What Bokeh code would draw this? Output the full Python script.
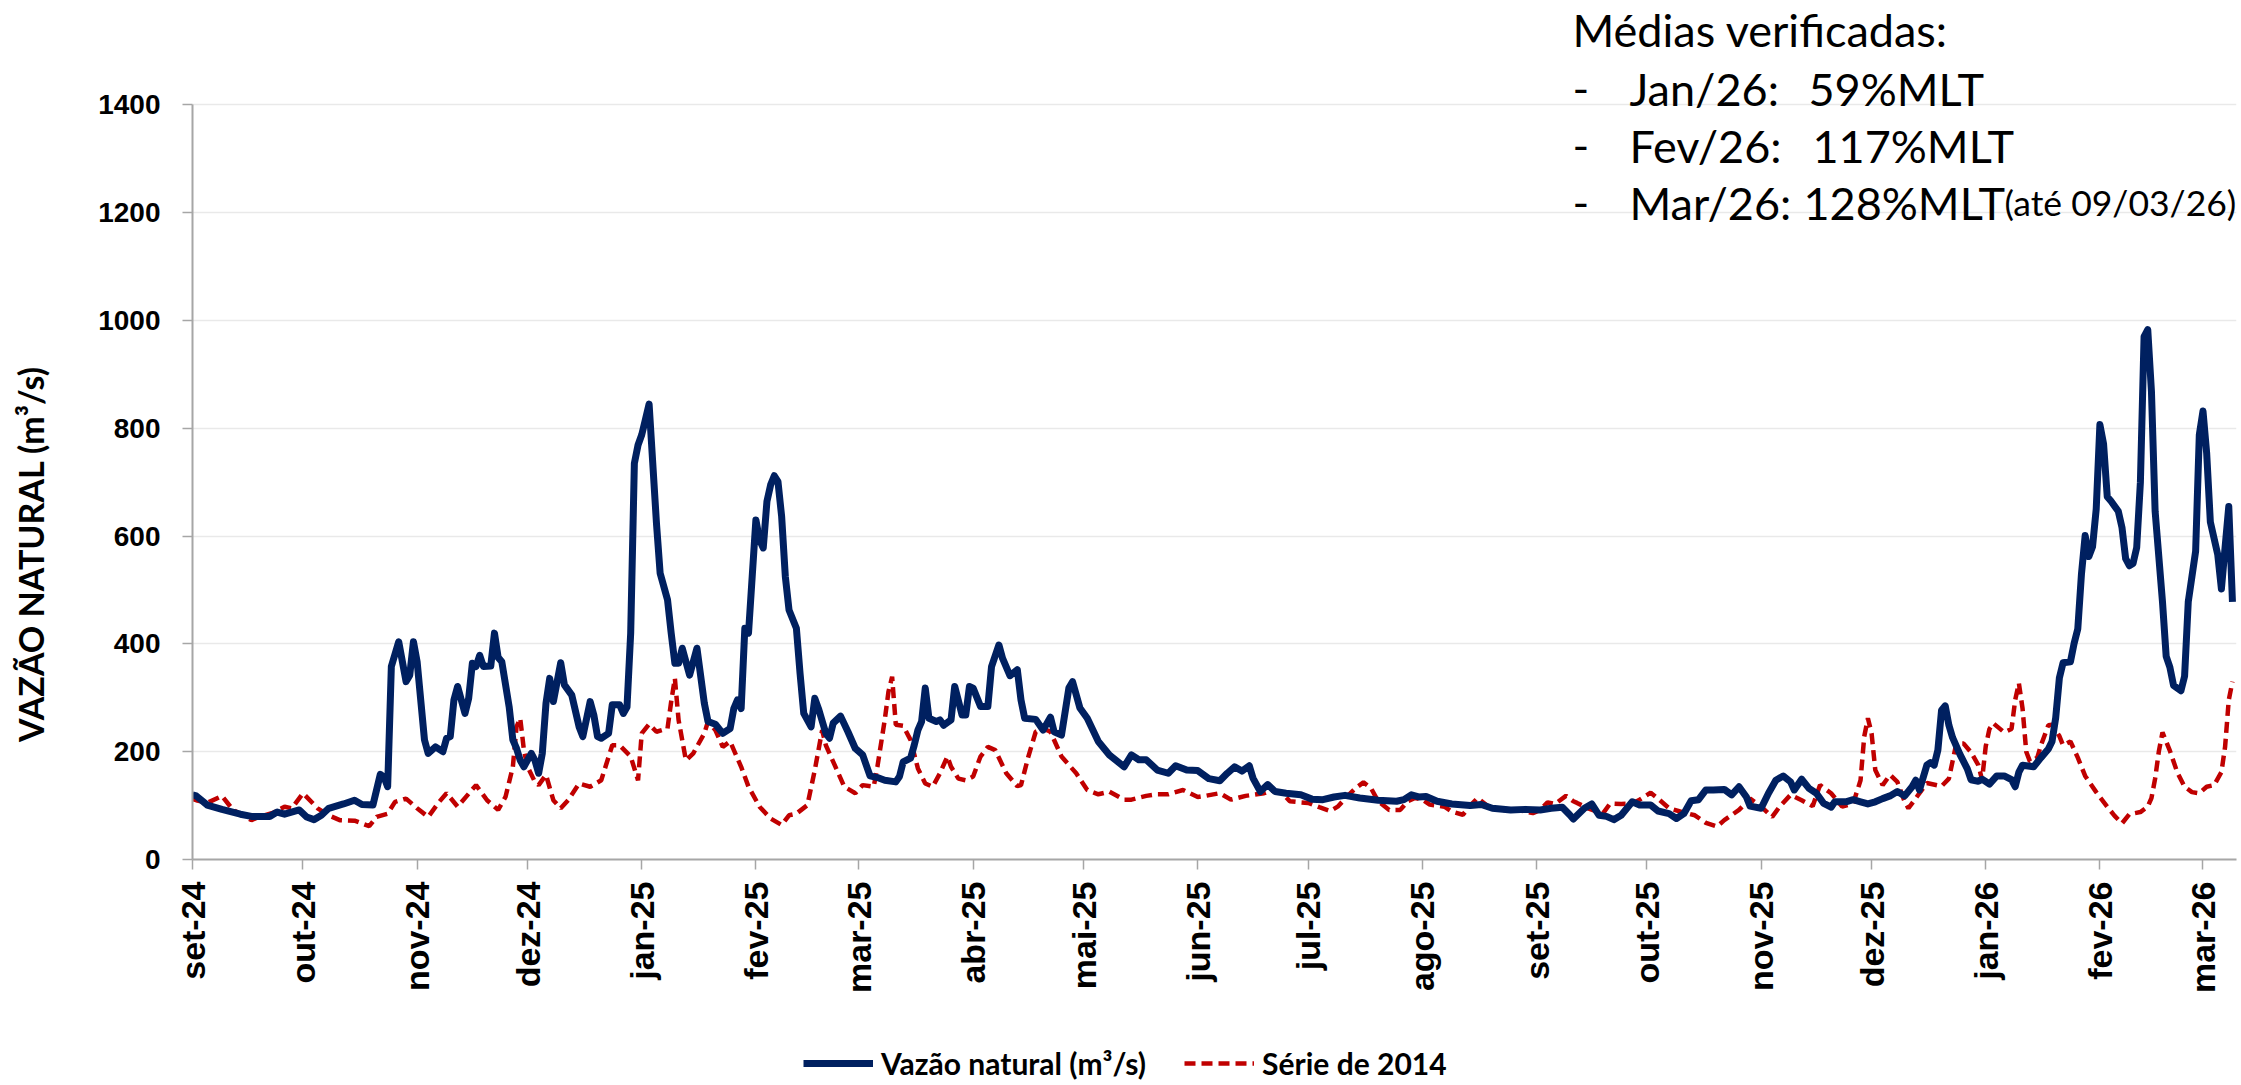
import pandas as pd
from math import pi
from bokeh.plotting import figure
from bokeh.layouts import column
from bokeh.models import FixedTicker, Label, Legend, LegendItem, Range1d
from bokeh.embed import file_html
from bokeh.resources import INLINE

inicio = "2024-09-01"

# Vazão natural (m³/s) - dias contados a partir de 01/09/2024
vazao_dias = [0, 1, 4, 8, 13, 16, 21, 23, 25, 29, 31, 33, 35, 37, 41, 44, 46, 49, 51, 52, 53, 54, 56, 58, 59, 60,
              61, 63, 64, 66, 68, 69, 70, 71, 72, 74, 75, 76, 77, 78, 79, 81, 82, 83, 84, 86, 87, 88, 89, 90, 92,
              93, 94, 95, 96, 97, 98, 100, 101, 103, 105, 106, 108, 109, 110, 111, 113, 114, 116, 117, 118, 119,
              120, 121, 122, 123, 124, 126, 127, 129, 130, 131, 132, 133, 135, 137, 139, 140, 142, 144, 146, 147,
              148, 149, 150, 151, 152, 153, 154, 155, 156, 157, 158, 159, 160, 161, 162, 164, 165, 166, 168, 169,
              170, 172, 173, 174, 176, 178, 180, 182, 184, 186, 188, 191, 192, 193, 195, 196, 197, 198, 199, 200,
              202, 203, 204, 206, 207, 209, 210, 211, 212, 214, 216, 217, 219, 220, 222, 224, 225, 226, 229, 231,
              233, 234, 236, 238, 239, 241, 243, 246, 249, 253, 255, 257, 259, 262, 265, 267, 270, 273, 276, 279,
              281, 283, 285, 287, 288, 290, 292, 294, 297, 301, 304, 307, 310, 313, 317, 322, 327, 329, 331, 333,
              335, 338, 342, 347, 350, 353, 358, 362, 366, 369, 372, 374, 375, 378, 380, 382, 384, 386, 388, 391,
              393, 396, 398, 401, 403, 405, 407, 409, 411, 413, 416, 418, 420, 422, 423, 426, 428, 430, 432, 434,
              435, 437, 439, 441, 443, 445, 446, 449, 451, 453, 455, 457, 459, 461, 463, 465, 467, 468, 469, 471,
              472, 473, 474, 475, 476, 477, 478, 480, 482, 483, 485, 486, 488, 490, 492, 494, 495, 496, 497, 500,
              502, 504, 505, 506, 507, 508, 510, 511, 512, 513, 514, 515, 516, 517, 518, 519, 520, 521, 523, 524,
              525, 526, 527, 528, 529, 530, 531, 532, 533, 535, 536, 537, 538, 540, 541, 542, 543, 544, 545, 546,
              547, 548, 550, 551, 552, 553, 554]
vazao = [120, 118, 101, 93, 84, 80, 80, 88, 84, 92, 79, 74, 82, 95, 103, 110, 102, 101, 158, 153, 135, 358, 404, 330,
         342, 404, 367, 222, 197, 209, 200, 225, 228, 296, 321, 271, 299, 364, 358, 379, 358, 359, 420, 375, 367,
         283, 222, 206, 184, 172, 197, 184, 160, 197, 290, 336, 293, 365, 324, 305, 246, 228, 293, 268, 228, 225,
         234, 287, 287, 271, 283, 420, 735, 769, 788, 816, 845, 624, 531, 482, 420, 364, 364, 392, 342, 392, 290,
         256, 251, 234, 243, 280, 296, 280, 429, 420, 525, 630, 593, 578, 664, 695, 712, 701, 636, 525, 463, 429,
         345, 271, 246, 299, 280, 234, 225, 253, 266, 237, 206, 194, 155, 152, 147, 144, 154, 181, 188, 212, 240,
         256, 318, 262, 256, 259, 249, 259, 321, 268, 268, 321, 318, 284, 284, 358, 398, 373, 341, 352, 296, 262,
         260, 240, 264, 237, 231, 318, 330, 281, 262, 219, 194, 172, 194, 185, 185, 166, 160, 174, 166, 165, 150,
         146, 160, 172, 164, 174, 151, 126, 139, 126, 123, 120, 112, 111, 116, 119, 114, 110, 108, 111, 120, 116,
         117, 108, 103, 100, 102, 95, 92, 93, 92, 95, 97, 83, 75, 95, 103, 82, 80, 74, 82, 107, 101, 101, 90, 85,
         76, 85, 109, 111, 129, 129, 130, 120, 135, 116, 99, 95, 123, 147, 155, 144, 129, 149, 132, 123, 104, 97,
         107, 107, 111, 107, 103, 107, 113, 118, 126, 118, 135, 147, 129, 175, 180, 175, 203, 277, 285, 249, 226,
         195, 168, 148, 145, 149, 140, 155, 155, 148, 135, 162, 175, 172, 189, 205, 219, 263, 337, 365, 367, 401,
         428, 530, 601, 562, 580, 650, 807, 771, 673, 665, 646, 616, 558, 545, 549, 579, 700, 970, 983, 869, 646,
         478, 377, 357, 323, 313, 340, 478, 525, 572, 788, 832, 754, 626, 566, 502, 579, 655, 478]

# Série de 2014 (m³/s)
serie_dias = [0, 1, 4, 8, 11, 16, 18, 22, 25, 27, 30, 34, 37, 40, 44, 48, 50, 53, 55, 58, 61, 64, 67, 69, 72, 77,
              80, 83, 85, 87, 88, 89, 90, 91, 93, 94, 96, 98, 100, 102, 105, 108, 111, 114, 116, 119, 121, 122, 124,
              126, 129, 130, 131, 132, 134, 136, 139, 140, 142, 144, 146, 149, 151, 154, 157, 160, 162, 164, 167,
              169, 171, 172, 175, 177, 180, 182, 185, 186, 188, 189, 190, 191, 193, 195, 197, 199, 201, 203, 205,
              206, 208, 210, 212, 214, 216, 218, 221, 224, 225, 227, 229, 231, 233, 236, 240, 243, 246, 249, 253,
              255, 259, 262, 265, 269, 273, 275, 279, 282, 286, 291, 293, 296, 298, 301, 303, 306, 309, 311, 314,
              316, 318, 320, 322, 325, 328, 330, 332, 334, 336, 340, 342, 345, 347, 349, 352, 356, 359, 364, 366,
              368, 370, 373, 375, 376, 379, 383, 385, 388, 391, 393, 396, 398, 401, 404, 408, 411, 414, 416, 420,
              423, 426, 429, 431, 434, 437, 440, 442, 445, 448, 451, 453, 454, 455, 456, 457, 459, 461, 463, 465,
              466, 469, 471, 475, 477, 479, 481, 483, 485, 486, 487, 488, 489, 492, 494, 495, 496, 497, 498, 499,
              501, 502, 504, 505, 507, 508, 510, 512, 514, 517, 520, 522, 524, 526, 529, 531, 532, 533, 534, 535,
              537, 539, 541, 543, 545, 547, 549, 551, 552, 553, 554]
serie_2014 = [112, 110, 105, 118, 92, 73, 79, 87, 98, 95, 123, 95, 82, 73, 72, 62, 79, 85, 107, 113, 95, 79, 107,
              123, 98, 138, 110, 92, 116, 172, 246, 262, 203, 172, 144, 138, 157, 110, 95, 110, 141, 135, 147, 212,
              212, 191, 147, 234, 251, 237, 243, 293, 336, 259, 184, 197, 234, 256, 240, 209, 219, 172, 135, 98, 76,
              64, 82, 85, 101, 166, 240, 212, 166, 135, 123, 138, 135, 172, 259, 311, 339, 250, 248, 222, 169, 141,
              135, 160, 191, 172, 150, 147, 154, 191, 209, 203, 160, 136, 138, 191, 237, 243, 237, 191, 160, 129,
              121, 126, 111, 111, 118, 121, 121, 129, 116, 118, 123, 111, 118, 123, 128, 123, 108, 106, 105, 97, 90,
              98, 120, 133, 143, 133, 108, 92, 92, 108, 114, 111, 102, 98, 89, 83, 100, 114, 98, 92, 93, 86, 92, 106,
              103, 118, 108, 105, 95, 85, 104, 103, 104, 111, 124, 113, 95, 89, 82, 68, 61, 73, 92, 113, 98, 79, 98,
              120, 110, 99, 138, 123, 98, 104, 147, 228, 262, 234, 166, 138, 157, 144, 107, 95, 123, 142, 136, 150,
              215, 215, 199, 175, 148, 210, 242, 253, 236, 242, 296, 327, 280, 200, 182, 189, 212, 249, 250, 229,
              212, 219, 189, 155, 125, 98, 81, 67, 84, 88, 98, 114, 150, 200, 236, 202, 162, 135, 125, 123, 135,
              138, 162, 209, 296, 330]

meses = ["2024-09-01", "2024-10-01", "2024-11-01", "2024-12-01", "2025-01-01", "2025-02-01", "2025-03-01",
         "2025-04-01", "2025-05-01", "2025-06-01", "2025-07-01", "2025-08-01", "2025-09-01", "2025-10-01",
         "2025-11-01", "2025-12-01", "2026-01-01", "2026-02-01", "2026-03-01"]
meses_rotulos = ["set-24", "out-24", "nov-24", "dez-24", "jan-25", "fev-25", "mar-25", "abr-25", "mai-25",
                 "jun-25", "jul-25", "ago-25", "set-25", "out-25", "nov-25", "dez-25", "jan-26", "fev-26", "mar-26"]
y_ticks = [0, 200, 400, 600, 800, 1000, 1200, 1400]

legenda_vazao = "Vazão natural (m³/s)"
legenda_serie = "Série de 2014"
titulo_y = "VAZÃO NATURAL  (m³/s)"

t0 = pd.Timestamp(inicio)
x_vazao = t0 + pd.to_timedelta(vazao_dias, unit="D")
x_serie = t0 + pd.to_timedelta(serie_dias, unit="D")

AZUL = "#002060"
VERMELHO = "#C00000"
ESTILO_AZUL = dict(line_color=AZUL, line_width=7, line_join="round")
ESTILO_VERM = dict(line_color=VERMELHO, line_width=4.5, line_dash="11 6")

FRAME_W, FRAME_H = 2044, 859
Y_MAX = 1593.7  # espaço acima de 1400 para a caixa de texto

p = figure(x_axis_type="datetime", frame_width=FRAME_W, frame_height=FRAME_H,
           min_border_left=192, min_border_right=4, min_border_top=0, min_border_bottom=150,
           output_backend="svg", toolbar_location=None,
           x_range=Range1d(t0, t0 + pd.Timedelta(days=555.1)), y_range=Range1d(0, Y_MAX))
p.outline_line_color = None
p.background_fill_color = "white"

r2 = p.line(x_serie, serie_2014, **ESTILO_VERM)
r1 = p.line(x_vazao, vazao, **ESTILO_AZUL)

tick_ms = [pd.Timestamp(m).value / 1e6 for m in meses]
p.xaxis.ticker = FixedTicker(ticks=tick_ms)
p.xaxis.major_label_overrides = {t: lab for t, lab in zip(tick_ms, meses_rotulos)}
p.xaxis.major_label_orientation = pi / 2
p.yaxis.ticker = FixedTicker(ticks=y_ticks)
p.yaxis.bounds = (0, 1400)

p.xgrid.visible = False
p.ygrid.grid_line_color = "#E9E9E9"
p.ygrid.grid_line_width = 1.5

for ax in (p.xaxis[0], p.yaxis[0]):
    ax.axis_line_color = "#A6A6A6"
    ax.axis_line_width = 2
    ax.major_tick_line_color = "#A6A6A6"
    ax.major_tick_line_width = 1.5
    ax.major_tick_out = 10
    ax.major_tick_in = 0
    ax.minor_tick_line_color = None
    ax.major_label_text_font = "Liberation Sans"
    ax.major_label_text_font_style = "bold"
    ax.major_label_text_color = "black"
p.yaxis.major_label_text_font_size = "28px"
p.xaxis.major_label_text_font_size = "34px"
p.xaxis.major_label_standoff = 12
p.yaxis.major_label_standoff = 22

# Título do eixo Y (espaços finos ao final deslocam o centro para baixo, como no original)
p.yaxis.axis_label = titulo_y + "\u00a0" * 29
p.yaxis.axis_label_standoff = 44
p.yaxis.axis_label_text_font = "Lato"
p.yaxis.axis_label_text_font_style = "bold"
p.yaxis.axis_label_text_font_size = "34px"
p.yaxis.axis_label_text_color = "black"

# Caixa de texto (coordenadas em px relativas ao quadro)
fs = "45px"
def lab(x, y, txt, size=fs):
    p.add_layout(Label(x=x, y=y, x_units="screen", y_units="screen", text=txt, text_font="Lato",
                       text_font_size=size, text_baseline="alphabetic", text_align="left", text_color="black"))

lab(1380, 830, "Médias verificadas:")
lab(1380, 771, "-")
lab(1437, 771, "Jan/26:")
lab(1616, 771, "59%MLT")
lab(1380, 714, "-")
lab(1437, 714, "Fev/26:")
lab(1620, 714, "117%MLT")
lab(1380, 657, "-")
lab(1437, 657, "Mar/26:")
lab(1611, 657, "128%MLT")
lab(1812, 657, "(até 09/03/26)", size="35.5px")

# Faixa da legenda (abaixo do gráfico); as linhas de amostra ficam fora da área visível
LEG_H = 75
pl = figure(width=2240, height=LEG_H, min_border=0, output_backend="svg", toolbar_location=None,
            x_range=Range1d(0, 1), y_range=Range1d(0, 1), x_axis_location=None, y_axis_location=None)
pl.outline_line_color = None
pl.grid.visible = False
g1 = pl.line(x=[5, 6], y=[5, 6], **ESTILO_AZUL)
g2 = pl.line(x=[5, 6], y=[5, 6], **ESTILO_VERM)
legend = Legend(items=[LegendItem(label=legenda_vazao, renderers=[g1]),
                       LegendItem(label=legenda_serie, renderers=[g2])],
                orientation="horizontal", location=(611, 3),
                label_text_font="Lato", label_text_font_style="bold", label_text_font_size="30px",
                label_text_color="black",
                glyph_width=70, glyph_height=30, label_height=30, label_standoff=8, spacing=38,
                padding=0, margin=0, border_line_color=None, background_fill_alpha=0)
pl.add_layout(legend)

page = column(p, pl, spacing=0)
open("out.html", "w").write(file_html(page, INLINE))
